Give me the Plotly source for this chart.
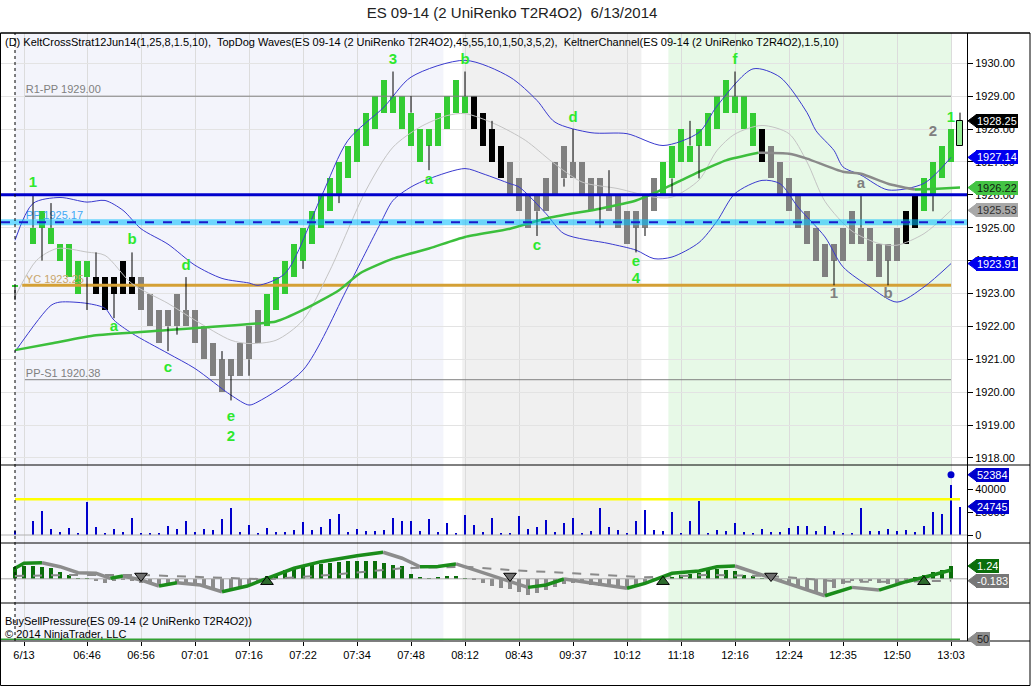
import plotly.graph_objects as go
from plotly.subplots import make_subplots

FONT = "Liberation Sans, Arial, sans-serif"

# ---------------- text ----------------
TITLE = "ES 09-14 (2 UniRenko T2R4O2)  6/13/2014"
HEADER = ("(D) KeltCrossStrat12Jun14(1,25,8,1.5,10),  TopDog Waves(ES 09-14 (2 UniRenko T2R4O2),"
          "45,55,10,1,50,3,5,2),  KeltnerChannel(ES 09-14 (2 UniRenko T2R4O2),1.5,10)")
FOOTER1 = "BuySellPressure(ES 09-14 (2 UniRenko T2R4O2))"
FOOTER2 = "\u00a9 2014 NinjaTrader, LLC"

# ---------------- x axis (bar index) ----------------
tick_bars = [1, 8, 14, 20, 26, 32, 38, 44, 50, 56, 62, 68, 74, 80, 86, 92, 98, 104]
tick_labels = ["6/13", "06:46", "06:56", "07:01", "07:16", "07:22", "07:34", "07:48", "08:12",
               "08:43", "09:37", "10:12", "11:18", "12:16", "12:24", "12:35", "12:50", "13:03"]

# ---------------- price bars (UniRenko) ----------------
body_lo = [1923.20, None, 1924.5, 1925.0, 1924.5, 1924.0, 1923.5, 1923.0, 1923.5, 1923.0,
           1922.5, 1923.0, 1923.0, 1923.0, 1922.5, 1922.0, 1921.5, 1922.0, 1922.0, 1922.0,
           1921.5, 1921.0, 1920.5, 1920.0, 1920.5, 1920.5, 1921.0, 1921.5, 1922.0, 1922.5,
           1923.0, 1923.5, 1924.0, 1924.5, 1925.0, 1925.5, 1926.0, 1926.5, 1927.0, 1927.5,
           1928.0, 1928.5, 1928.5, 1928.0, 1927.5, 1927.0, 1927.5, 1927.5, 1928.0, 1928.5,
           1928.5, 1928.0, 1927.5, 1927.0, 1926.5, 1926.0, 1925.5, 1925.0, 1925.5, 1925.5,
           1926.0, 1926.5, 1926.5, 1926.0, 1925.5, 1926.0, 1925.5, 1925.0, 1924.5, 1925.0,
           1925.0, 1925.5, 1926.0, 1926.5, 1927.0, 1927.0, 1927.5, 1927.5, 1928.0, 1928.5,
           1928.5, 1928.0, 1927.5, 1927.0, 1926.5, 1926.0, 1925.5, 1925.0, 1924.5, 1924.0,
           1923.5, 1924.0, 1924.0, 1924.5, 1924.5, 1924.0, 1923.5, 1924.0, 1924.0, 1924.5,
           1925.0, 1925.5, 1926.0, 1926.5, 1927.0, 1927.5]
body_hi = [1923.27, None, 1925.0, 1925.5, 1925.0, 1924.5, 1924.5, 1924.0, 1924.0, 1923.5,
           1923.5, 1923.5, 1924.0, 1923.5, 1923.5, 1923.0, 1922.5, 1922.5, 1923.0, 1922.5,
           1922.5, 1922.0, 1921.5, 1921.0, 1921.0, 1921.5, 1922.0, 1922.5, 1923.0, 1923.5,
           1924.0, 1924.5, 1925.0, 1925.5, 1926.0, 1926.5, 1927.0, 1927.5, 1928.0, 1928.5,
           1929.0, 1929.5, 1929.0, 1929.0, 1928.5, 1928.0, 1928.0, 1928.5, 1929.0, 1929.5,
           1929.0, 1929.0, 1928.5, 1928.0, 1927.5, 1927.0, 1926.5, 1926.0, 1926.0, 1926.5,
           1927.0, 1927.5, 1927.0, 1927.0, 1926.5, 1926.5, 1926.0, 1926.0, 1925.5, 1925.5,
           1926.0, 1926.5, 1927.0, 1927.5, 1928.0, 1927.5, 1928.0, 1928.5, 1929.0, 1929.5,
           1929.0, 1929.0, 1928.5, 1928.0, 1927.5, 1927.0, 1926.5, 1926.0, 1925.5, 1925.0,
           1924.5, 1924.5, 1925.0, 1925.5, 1925.0, 1925.0, 1924.5, 1924.5, 1925.0, 1925.5,
           1926.0, 1926.5, 1927.0, 1927.5, 1928.0, 1928.25]
# G = up-wave green, K = black, S = gray, L = live bar
bar_colors = ("G-GGGGGGGKKKKKSSSSSSSSSSSSSSGGGGGGGGGGGGGGGGGGGGGGGKKKKSSSSSSSSSSSSSSSSS"
              "GGGGGGGGGGGKSSSSSSSSSSSSSSSKKGGGGL")
wick_hi_bars = [2, 4, 9, 13, 19, 23, 42, 44, 50, 53, 62, 66, 75, 80, 94, 105]
wick_hi_vals = [1926.0, 1925.75, 1924.25, 1924.25, 1923.5, 1921.25, 1929.75, 1929.0, 1929.75,
                1928.25, 1928.0, 1926.75, 1928.25, 1929.75, 1926.0, 1928.5]
wick_lo_bars = [0, 3, 8, 11, 17, 18, 24, 26, 32, 36, 46, 58, 61, 65, 69, 70, 73, 76, 91, 97, 102]
wick_lo_vals = [1922.8, 1924.0, 1922.5, 1922.25, 1921.25, 1921.75, 1919.75, 1920.5, 1923.75,
                1925.75, 1926.75, 1924.75, 1926.25, 1925.0, 1924.25, 1924.75, 1926.0, 1926.5,
                1923.25, 1923.25, 1925.5]

# wave labels: bar, text, price, color-code (W = green, N = gray)
wave_bars = [2, 13, 11, 19, 17, 24, 24, 42, 50, 46, 58, 62, 69, 69, 80, 91, 94, 97, 102, 104]
wave_text = ["1", "b", "a", "d", "c", "e", "2", "3", "b", "a", "c", "d", "e", "4", "f",
             "1", "a", "b", "2", "1"]
wave_price = [1926.35, 1924.62, 1921.97, 1923.83, 1920.73, 1919.24, 1918.63, 1930.08, 1930.08,
              1926.44, 1924.44, 1928.32, 1923.95, 1923.43, 1930.08, 1922.98, 1926.32, 1922.98,
              1927.9, 1928.32]
wave_col = "WWWWWWWWWWWWWWWNNNNW"

# ---------------- pivot levels ----------------
level_names = ["R1-PP 1929.00", "PP 1925.17", "YC 1923.25", "PP-S1 1920.38"]
level_vals = [1929.00, 1925.17, 1923.25, 1920.38]
trend_line_val = 1926.00

# ---------------- Keltner channel & average (anchor points) ----------------
upper_k = [0, 2, 5, 8, 10, 12, 14, 17, 20, 23, 26, 27, 30, 34, 37, 41, 44, 50, 55, 58, 60, 64,
           68, 72, 76, 78, 82, 85, 88, 89, 91, 92, 94, 97, 101, 104]
upper_v = [1924.62, 1925.74, 1925.92, 1925.78, 1925.83, 1925.53, 1924.97, 1924.5, 1923.86,
           1923.46, 1923.32, 1923.25, 1923.61, 1925.93, 1927.66, 1928.67, 1929.58, 1930.09,
           1929.58, 1928.87, 1928.21, 1927.89, 1927.86, 1927.5, 1927.9, 1928.7, 1929.83,
           1929.58, 1928.5, 1927.95, 1927.35, 1926.85, 1926.6, 1926.15, 1926.35, 1927.14]
lower_k = [0, 4, 5, 8, 10, 11, 13, 17, 20, 24, 26, 27, 32, 37, 40.6, 42, 44, 46, 50, 52, 55, 56,
           59, 61, 66, 69, 71, 73, 76, 78, 80, 83, 85, 87, 90, 92, 95, 98, 101, 104]
lower_v = [1921.23, 1922.64, 1922.74, 1922.7, 1922.55, 1922.19, 1921.79, 1921.18, 1920.72,
           1919.91, 1919.61, 1919.71, 1920.67, 1923.2, 1925.13, 1925.83, 1926.24, 1926.49,
           1926.8, 1926.64, 1926.34, 1926.24, 1925.43, 1924.82, 1924.52, 1924.32, 1924.06,
           1924.11, 1924.55, 1925.2, 1926.04, 1926.44, 1926.34, 1925.63, 1924.72, 1923.81,
           1923.2, 1922.74, 1923.2, 1923.91]
mid_k = [0, 2.4, 4.7, 8, 10, 13, 17, 20, 24, 26, 29, 32, 35, 39, 42, 45, 48, 50, 53.3, 56.7,
         59.7, 63, 67, 71, 73, 76, 78, 80, 83, 86, 88, 90, 93, 96, 98, 101, 104]
mid_v = [1922.9, 1924.01, 1924.37, 1924.26, 1924.16, 1923.3, 1922.7, 1922.19, 1921.58, 1921.48,
         1921.58, 1922.19, 1923.71, 1926.14, 1927.45, 1928.06, 1928.41, 1928.47, 1928.16,
         1927.66, 1927.0, 1926.39, 1926.19, 1925.93, 1925.93, 1926.45, 1927.35, 1927.85,
         1928.11, 1927.86, 1927.0, 1925.8, 1924.9, 1924.52, 1924.47, 1924.82, 1925.53]
ma_k = [0, 4, 9, 17, 22, 27, 29, 32, 36, 38.3, 42, 46, 50, 55, 59, 65, 69, 71, 74, 76, 79, 82.6,
        86, 88, 92, 94, 97, 100, 102, 105]
ma_v = [1921.28, 1921.48, 1921.73, 1921.89, 1921.99, 1922.09, 1922.15, 1922.5, 1923.1, 1923.61,
        1924.06, 1924.37, 1924.72, 1924.97, 1925.28, 1925.58, 1925.83, 1926.05, 1926.44, 1926.7,
        1927.05, 1927.28, 1927.25, 1927.1, 1926.7, 1926.64, 1926.34, 1926.16, 1926.18, 1926.22]

# ---------------- volume ----------------
volume = [3770, None, 12200, 20900, 5200, 2900, 6100, 1450, 29000, 7000,
          1450, 5200, 2900, 14800, 1450, 1450, 1450, 7800, 5200, 12200,
          2900, 5200, 4350, 13900, 23500, 2900, 8700, 1450, 6100, 2900,
          2900, 4350, 11600, 4350, 7000, 13900, 18300, 2900, 5200, 3500,
          3800, 4600, 14800, 12200, 12200, 3800, 13900, 2900, 10400, 1450,
          17400, 8700, 2900, 14800, 1450, 1450, 16500, 4900, 7000, 13000,
          2900, 10700, 14800, 2000, 3500, 23500, 7000, 4350, 1700, 12200,
          21700, 4350, 3500, 20000, 1700, 12200, 29600, 1700, 4350, 3500,
          10400, 2300, 900, 5200, 2300, 2300, 6100, 7800, 7800, 3800,
          7800, 3800, 1700, 1700, 23500, 3800, 3800, 5200, 3500, 4350,
          2300, 7800, 20000, 18300, 43500, 24745]
volume_peak_bar = 104
volume_peak = 52384
volume_alert = 31000
volume_ticks = [0, 20000, 40000]

# ---------------- buy/sell pressure oscillator ----------------
osc_hist = [1.1, 1.26, 1.26, 1.13, 1.04, 0.62, 0.39, 0.05, 0.05, -0.2,
            -0.42, -0.26, -0.1, -0.2, -0.36, -0.5, -0.68, -0.6, -0.55, -0.6,
            -0.7, -0.8, -1.0, -1.23, -1.07, -0.8, -0.49, -0.2, 0.3, 0.4,
            0.87, 1.13, 1.26, 1.36, 1.46, 1.52, 1.59, 1.68, 1.68, 1.68,
            1.68, 1.52, 1.36, 1.2, 0.49, 0.16, 0.05, 0.16, 0.23, 0.23,
            0.06, -0.1, -0.42, -0.68, -0.91, -1.0, -1.23, -1.55, -1.33, -1.07,
            -0.75, -0.49, -0.36, -0.42, -0.58, -0.68, -0.75, -0.84, -1.0, -0.75,
            -0.42, -0.16, 0.05, 0.16, 0.39, 0.49, 0.55, 0.81, 0.97, 0.87,
            0.71, 0.39, 0.23, 0.05, -0.05, -0.26, -0.49, -0.81, -1.13, -1.33,
            -1.46, -0.91, -0.49, -0.26, -0.26, -0.26, -0.36, -0.49, -0.36, -0.16,
            0.1, 0.39, 0.62, 0.87, 1.24, None]
osc_k = [0, 1, 3, 5, 7, 9, 10.6, 12, 14, 16, 18, 20.6, 23, 25.8, 28, 31, 34, 36, 38, 40.9, 43,
         45, 47, 49, 51, 54, 56, 57, 59, 61, 64, 68, 70, 73, 76, 78, 80, 83, 87, 90, 93, 96, 99,
         102, 104]
osc_v = [1.02, 1.5, 1.56, 1.17, 0.59, 0.53, 0.05, 0.27, -0.12, -0.7, -0.38, -0.6, -1.25, -0.7,
         0.05, 1.02, 1.66, 1.99, 2.24, 2.57, 1.99, 1.17, 1.2, 1.44, 0.85, 0.05, -0.6, -0.83,
         -0.6, -0.02, -0.44, -0.92, -0.44, 0.53, 0.76, 1.17, 1.24, 0.37, -0.77, -1.64, -0.83,
         -1.09, -0.28, 0.37, 0.85]
sig_k = [0, 6, 14, 21, 28, 35, 43, 50, 55, 62, 70, 77, 84, 92, 99, 104]
sig_v = [0.27, 0.37, 0.37, 0.14, -0.05, 0.37, 1.02, 1.17, 0.85, 0.53, 0.14, 0.37, 0.27, -0.28,
         -0.28, -0.183]
cross_up_bars = [28, 72, 101]
cross_up_val = -0.28
cross_dn_bars = [14, 55, 84]
cross_dn_val = 0.27
bottom_level = 50

# ---------------- geometry ----------------
FIG_W, FIG_H = 1031, 687
ML, MR, MT, MB = 1, 64, 33, 46
PW = FIG_W - ML - MR
PH = FIG_H - MT - MB
X_RANGE = [-1.556, 105.778]
PANEL_PX = [432, 78, 60, 38]
Y_RANGES = [[1917.787, 1930.921], [-6957, 60870], [-2.343, 3.466], [49.5, 60]]

bars = list(range(len(body_lo)))

fig = make_subplots(rows=4, cols=1, shared_xaxes=True, vertical_spacing=0,
                    row_heights=PANEL_PX)

# domains in paper coordinates
domains = []
top = 1.0
for h in PANEL_PX:
    d0 = top - h / PH
    domains.append([max(d0, 0.0), top])
    top = d0
domains[-1][0] = 0.0


def px_x(px):
    return (px - ML) / PW


def yp(row, v):
    d0, d1 = domains[row]
    r0, r1 = Y_RANGES[row]
    return d0 + (v - r0) / (r1 - r0) * (d1 - d0)


# background session shading
for x0, x1, col in [(0, 47.6, "#f3f4fb"), (49.7, 69.6, "#f0f0f0"), (72.6, 104.0, "#e7f9e7")]:
    fig.add_shape(type="rect", xref="x", yref="paper", x0=x0, x1=x1, y0=0, y1=1,
                  fillcolor=col, line_width=0, layer="below")

# ---- level labels (drawn under bars) ----
lvl_colors = ["#808080", "#3fa9f5", "#c9a66b", "#808080"]
fig.add_trace(go.Scatter(x=[1.2] * 4, y=level_vals, mode="text", text=level_names,
                         textposition="top right",
                         textfont=dict(family=FONT, size=11, color=lvl_colors),
                         hoverinfo="skip", showlegend=False), row=1, col=1)

# ---- level lines below bars ----
for v, col, w in [(level_vals[0], "#808080", 1), (level_vals[3], "#808080", 1),
                  (level_vals[2], "#d4a035", 3)]:
    fig.add_trace(go.Scatter(x=[1.1 if w == 1 else 0.8, 104.0], y=[v, v], mode="lines",
                             line=dict(color=col, width=w), hoverinfo="skip",
                             showlegend=False), row=1, col=1)

# ---- Keltner channel ----
fig.add_trace(go.Scatter(x=mid_k, y=mid_v, mode="lines", line=dict(color="#c4c4c4", width=1,
                         shape="spline", smoothing=0.8), showlegend=False, hoverinfo="skip"),
              row=1, col=1)
for kk, vv in [(upper_k, upper_v), (lower_k, lower_v)]:
    fig.add_trace(go.Scatter(x=kk, y=vv, mode="lines", line=dict(color="#3a3acf", width=1,
                             shape="spline", smoothing=0.8), showlegend=False,
                             hoverinfo="skip"), row=1, col=1)


def slope_segments(xs, ys, up_col, dn_col):
    segs = []
    cur = None
    for i in range(len(xs) - 1):
        c = up_col if ys[i + 1] > ys[i] else dn_col
        if cur is None or cur[0] != c:
            cur = [c, [xs[i]], [ys[i]]]
            segs.append(cur)
        cur[1].append(xs[i + 1])
        cur[2].append(ys[i + 1])
    return segs


for c, xs, ys in slope_segments(ma_k, ma_v, "#3cbf3c", "#8a8a8a"):
    fig.add_trace(go.Scatter(x=xs, y=ys, mode="lines", line=dict(color=c, width=2.5,
                             shape="spline", smoothing=0.6), showlegend=False,
                             hoverinfo="skip"), row=1, col=1)

# ---- wicks ----
wx, wy = [], []
for b, v in zip(wick_hi_bars, wick_hi_vals):
    wx += [b, b, None]
    wy += [body_hi[b], v, None]
for b, v in zip(wick_lo_bars, wick_lo_vals):
    wx += [b, b, None]
    wy += [v, body_lo[b], None]
fig.add_trace(go.Scatter(x=wx, y=wy, mode="lines", line=dict(color="black", width=1),
                         showlegend=False, hoverinfo="skip"), row=1, col=1)

# ---- bodies ----
body_style = {"G": ("#33cc33", None), "K": ("#000000", None), "S": ("#808080", None),
              "L": ("#98ee98", "#000000")}
for code, (fill, edge) in body_style.items():
    idx = [i for i in bars if bar_colors[i] == code and body_lo[i] is not None]
    fig.add_trace(go.Bar(x=idx, base=[body_lo[i] for i in idx],
                         y=[body_hi[i] - body_lo[i] for i in idx], width=0.74,
                         marker=dict(color=fill, line=dict(color=edge or fill,
                                                           width=1 if edge else 0)),
                         showlegend=False, hoverinfo="skip"), row=1, col=1)

# ---- blue lines above bars ----
fig.add_trace(go.Scatter(x=X_RANGE, y=[level_vals[1]] * 2, mode="lines",
                         line=dict(color="rgba(0,190,255,0.55)", width=6),
                         showlegend=False, hoverinfo="skip"), row=1, col=1)
fig.add_trace(go.Scatter(x=X_RANGE, y=[level_vals[1]] * 2, mode="lines",
                         line=dict(color="#1a1acc", width=2, dash="dash"),
                         showlegend=False, hoverinfo="skip"), row=1, col=1)
fig.add_trace(go.Scatter(x=X_RANGE, y=[trend_line_val] * 2, mode="lines",
                         line=dict(color="#0000cc", width=3),
                         showlegend=False, hoverinfo="skip"), row=1, col=1)

# ---- wave labels ----
wcol = ["#2ee82e" if c == "W" else "#808080" for c in wave_col]
fig.add_trace(go.Scatter(x=wave_bars, y=wave_price, mode="text", text=wave_text,
                         textposition="middle center",
                         textfont=dict(family=FONT, size=15, color=wcol, weight="bold"),
                         showlegend=False, hoverinfo="skip", cliponaxis=False), row=1, col=1)

# ---------------- volume panel ----------------
fig.add_trace(go.Scatter(x=X_RANGE, y=[0, 0], mode="lines", line=dict(color="#b0b0b0", width=1),
                         showlegend=False, hoverinfo="skip"), row=2, col=1)
fig.add_trace(go.Scatter(x=[0, 105], y=[volume_alert] * 2, mode="lines",
                         line=dict(color="#ffff00", width=2.5),
                         showlegend=False, hoverinfo="skip"), row=2, col=1)
vi = [i for i in bars if volume[i] is not None]
fig.add_trace(go.Bar(x=vi, y=[volume[i] for i in vi], width=0.25,
                     marker=dict(color="#0000cc", line_width=0),
                     showlegend=False, hoverinfo="skip"), row=2, col=1)
fig.add_trace(go.Scatter(x=[volume_peak_bar], y=[volume_peak], mode="markers",
                         marker=dict(color="#0000cc", size=7), showlegend=False,
                         hoverinfo="skip"), row=2, col=1)

# ---------------- oscillator panel ----------------
fig.add_trace(go.Scatter(x=X_RANGE, y=[0, 0], mode="lines", line=dict(color="#a8a8a8", width=1),
                         showlegend=False, hoverinfo="skip"), row=3, col=1)
hi_pos = [i for i in bars if osc_hist[i] is not None and osc_hist[i] >= 0]
hi_neg = [i for i in bars if osc_hist[i] is not None and osc_hist[i] < 0]
fig.add_trace(go.Bar(x=hi_pos, y=[osc_hist[i] for i in hi_pos], width=0.36,
                     marker=dict(color="#0b6e0b", line_width=0), showlegend=False,
                     hoverinfo="skip"), row=3, col=1)
fig.add_trace(go.Bar(x=hi_neg, y=[osc_hist[i] for i in hi_neg], width=0.36,
                     marker=dict(color="#8c8c8c", line_width=0), showlegend=False,
                     hoverinfo="skip"), row=3, col=1)
fig.add_trace(go.Scatter(x=sig_k, y=sig_v, mode="lines",
                         line=dict(color="#8a8a8a", width=2, dash="dash"),
                         showlegend=False, hoverinfo="skip"), row=3, col=1)
for c, xs, ys in slope_segments(osc_k, osc_v, "#1a8c1a", "#8c8c8c"):
    fig.add_trace(go.Scatter(x=xs, y=ys, mode="lines", line=dict(color=c, width=3.5),
                             showlegend=False, hoverinfo="skip"), row=3, col=1)
fig.add_trace(go.Scatter(x=cross_up_bars, y=[cross_up_val] * len(cross_up_bars), mode="markers",
                         marker=dict(symbol="triangle-up", size=11, color="#2d6b2d",
                                     line=dict(color="black", width=1)),
                         showlegend=False, hoverinfo="skip"), row=3, col=1)
fig.add_trace(go.Scatter(x=cross_dn_bars, y=[cross_dn_val] * len(cross_dn_bars), mode="markers",
                         marker=dict(symbol="triangle-down", size=11, color="#6e6e6e",
                                     line=dict(color="black", width=1)),
                         showlegend=False, hoverinfo="skip"), row=3, col=1)

# ---------------- bottom panel ----------------
fig.add_trace(go.Scatter(x=[X_RANGE[0], 105], y=[bottom_level] * 2, mode="lines",
                         line=dict(color="#33a033", width=1.5),
                         showlegend=False, hoverinfo="skip"), row=4, col=1)

# ---------------- axes ----------------
for r in range(1, 5):
    fig.update_xaxes(row=r, col=1, range=X_RANGE, tickvals=tick_bars, ticktext=tick_labels,
                     showgrid=True, gridcolor="#dcdcdc", gridwidth=1, zeroline=False,
                     showticklabels=(r == 4), ticks="outside" if r == 4 else "",
                     ticklen=4, tickcolor="black",
                     tickfont=dict(family=FONT, size=11, color="black"), showline=False)

main_ticks = list(range(1918, 1931))
fig.update_yaxes(row=1, col=1, range=Y_RANGES[0], domain=domains[0], side="right",
                 tickvals=main_ticks, ticktext=[f"{t:.2f}" for t in main_ticks],
                 showgrid=True, gridcolor="#e3e3e3", zeroline=False, ticks="outside",
                 ticklen=5, tickcolor="black", showline=True, linecolor="black", linewidth=1,
                 tickfont=dict(family=FONT, size=11, color="black"))
fig.update_yaxes(row=2, col=1, range=Y_RANGES[1], domain=domains[1], side="right",
                 tickvals=volume_ticks, ticktext=[str(t) for t in volume_ticks],
                 showgrid=False, zeroline=False, ticks="outside", ticklen=5, tickcolor="black",
                 showline=True, linecolor="black", linewidth=1,
                 tickfont=dict(family=FONT, size=11, color="black"))
fig.update_yaxes(row=3, col=1, range=Y_RANGES[2], domain=domains[2], side="right",
                 showticklabels=False, showgrid=False, zeroline=False, ticks="",
                 showline=True, linecolor="black", linewidth=1)
fig.update_yaxes(row=4, col=1, range=Y_RANGES[3], domain=domains[3], side="right",
                 showticklabels=False, showgrid=False, zeroline=False, ticks="",
                 showline=True, linecolor="black", linewidth=1)

# ---------------- frame & separators ----------------
XL, XR = px_x(0.5), px_x(1030)
for yy in [1.0, domains[0][0], domains[1][0], domains[2][0], 0.0]:
    fig.add_shape(type="line", xref="paper", yref="paper", x0=XL, x1=XR, y0=yy, y1=yy,
                  line=dict(color="black", width=1), layer="above")
fig.add_shape(type="rect", xref="paper", yref="paper", x0=XL, x1=XR,
              y0=-(FIG_H - 1.5 - (MT + PH)) / PH, y1=1.0,
              line=dict(color="black", width=1), layer="above")
fig.add_shape(type="line", xref="x", yref="paper", x0=0, x1=0, y0=0, y1=1,
              line=dict(color="black", width=1, dash="dot"), layer="above")

# ---------------- right-side value tags ----------------
TIP, BOX = px_x(968), px_x(976)


def tag(row, value, text, bg, fg):
    yc = yp(row, value)
    h = 6.0 / PH
    fig.add_shape(type="path", xref="paper", yref="paper",
                  path=f"M {TIP},{yc} L {BOX},{yc + h} L {BOX},{yc - h} Z",
                  fillcolor=bg, line=dict(color=bg, width=1), layer="above")
    fig.add_annotation(xref="paper", yref="paper", x=BOX, y=yc, xanchor="left",
                       yanchor="middle", text=text, showarrow=False, bgcolor=bg,
                       bordercolor=bg, borderpad=0, borderwidth=1, height=12,
                       font=dict(family=FONT, size=11, color=fg))


tag(0, body_hi[-1], f"{body_hi[-1]:.2f}", "#000000", "white")
tag(0, upper_v[-1], f"{upper_v[-1]:.2f}", "#0000ee", "white")
tag(0, ma_v[-1], f"{ma_v[-1]:.2f}", "#44c444", "#102010")
tag(0, mid_v[-1], f"{mid_v[-1]:.2f}", "#a8a8a8", "#303030")
tag(0, lower_v[-1], f"{lower_v[-1]:.2f}", "#0000ee", "white")
tag(1, volume_peak, str(volume_peak), "#0000cc", "white")
tag(1, volume[-1], str(volume[-1]), "#0000cc", "white")
tag(2, osc_hist[-2], f"{osc_hist[-2]:.2f}", "#0b6e0b", "white")
tag(2, sig_v[-1], f"{sig_v[-1]:.3f}", "#777777", "white")
tag(3, bottom_level, str(bottom_level), "#8c8c8c", "#202020")

# ---------------- text ----------------
fig.add_annotation(xref="paper", yref="paper", x=px_x(3), y=1.0, xanchor="left", yanchor="top",
                   yshift=-1, text=HEADER, showarrow=False,
                   font=dict(family=FONT, size=11, color="black"))
fig.add_annotation(xref="paper", yref="paper", x=px_x(3), y=domains[3][1], xanchor="left",
                   yanchor="top", yshift=-10, text=FOOTER1, showarrow=False,
                   font=dict(family=FONT, size=11, color="black"))
fig.add_annotation(xref="paper", yref="paper", x=px_x(3), y=domains[3][1], xanchor="left",
                   yanchor="top", yshift=-23, text=FOOTER2, showarrow=False,
                   font=dict(family=FONT, size=11, color="black"))

fig.update_layout(
    width=FIG_W, height=FIG_H,
    margin=dict(l=ML, r=MR, t=MT, b=MB),
    paper_bgcolor="white", plot_bgcolor="white",
    barmode="overlay", bargap=0,
    title=dict(text=TITLE, x=512 / FIG_W, xanchor="center", y=1 - 13 / FIG_H,
               yanchor="middle", xref="container", yref="container",
               font=dict(family=FONT, size=15, color="#222222")),
    showlegend=False,
    hovermode=False,
)

# the page's default 8px body margin would shift the chart; remove it
fig.write_html("out.html", config={"displayModeBar": False},
               post_script="document.body.style.margin='0px';")
